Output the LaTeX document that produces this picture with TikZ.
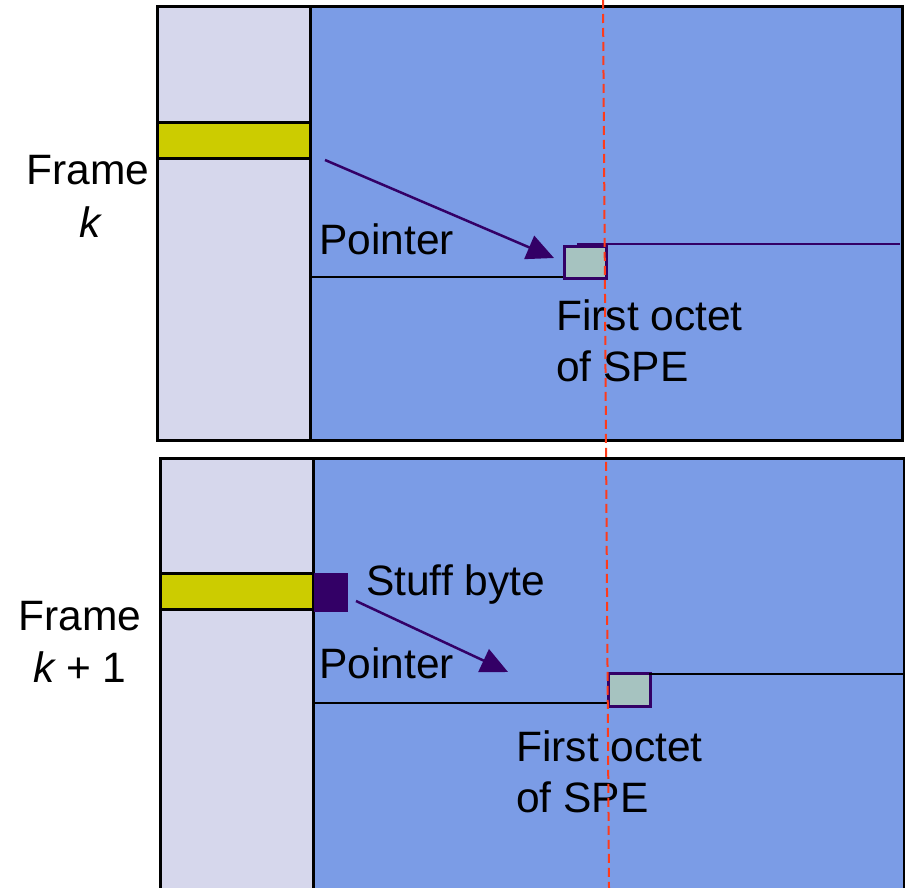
\documentclass[tikz,border=0pt]{standalone}
\usepackage{fontspec}
\setmainfont{Liberation Sans}
\usetikzlibrary{arrows.meta}
\definecolor{lav}{HTML}{D6D7EC}
\definecolor{blu}{HTML}{7B9CE6}
\definecolor{yel}{HTML}{CCCC00}
\definecolor{teal2}{HTML}{A6C3C0}
\definecolor{purp}{HTML}{330066}
\definecolor{redd}{HTML}{FF3B1A}
\tikzset{
  box/.style={draw=black, line width=3pt, inner sep=0pt, outer sep=0pt},
  lbl/.style={inner sep=0pt, font=\fontsize{42.5}{52}\selectfont, text=black},
  octet/.style={fill=teal2, draw=purp, line width=2.5pt},
  ptr/.style={draw=purp, line width=2.5pt, -{Triangle[length=27pt,width=25pt]}},
  hline/.style={draw=black, line width=2.4pt},
}
\begin{document}
\begin{tikzpicture}[x=1pt,y=-1pt]
\useasboundingbox (0,0) rectangle (905,888);
% Frame k
\path[box, fill=lav] (157,7) rectangle (310,440);
\path[box, fill=blu] (310,7) rectangle (902,440);
\path[box, fill=yel] (157,123) rectangle (310,159);
\coordinate (l1a) at (310,277);
\coordinate (l1b) at (563,277);
\draw[hline] (l1a) -- (l1b);
\node[octet, minimum width=42pt, minimum height=32pt, inner sep=0pt, anchor=north west] (oct1) at (563,245) {};
\coordinate (r1) at (900,244);
\draw[draw=purp, line width=2.2pt] (577,244) -- (r1);
\coordinate (p1s) at (325,160);
\coordinate (p1e) at (554,258);
\draw[ptr] (p1s) -- (p1e);
\node[lbl, anchor=base west] (pt1) at (319,254) {Pointer};
\node[lbl, anchor=base west] (fo1) at (556,330) {First octet};
\node[lbl, anchor=base west] (sp1) at (556,381) {of SPE};
\node[lbl, anchor=base] (fr1) at (88,184) {Frame};
\node[lbl, anchor=base] (k1) at (90,237) {\itshape k};
% Frame k+1
\path[box, fill=lav] (160,458) rectangle (313,895);
\path[box, fill=blu] (313,458) rectangle (904,895);
\path[box, fill=yel] (160,573) rectangle (313,609);
\node[fill=purp, minimum width=34pt, minimum height=39pt, inner sep=0pt, anchor=north west] (stuff) at (314,573) {};
\coordinate (l2a) at (313,703);
\coordinate (l2b) at (607,703);
\draw[hline] (l2a) -- (l2b);
\node[octet, minimum width=42pt, minimum height=33pt, inner sep=0pt, anchor=north west] (oct2) at (607,672) {};
\coordinate (r2) at (905,674);
\draw[hline] (649,674) -- (r2);
\coordinate (p2s) at (356,601);
\coordinate (p2e) at (508,672);
\draw[ptr] (p2s) -- (p2e);
\node[lbl, anchor=base west] (sb) at (366,595) {Stuff byte};
\node[lbl, anchor=base west] (pt2) at (319,678) {Pointer};
\node[lbl, anchor=base west] (fo2) at (516,761) {First octet};
\node[lbl, anchor=base west] (sp2) at (516,812) {of SPE};
\node[lbl, anchor=base] (fr2) at (80,630) {Frame};
\node[lbl, anchor=base] (k2) at (80,682) {\itshape k\upshape\ + 1};
% red dashed line
\coordinate (rt) at (603,0);
\coordinate (rb) at (609,888);
\draw[redd, line width=2pt, dash pattern=on 9pt off 5pt] (rt) -- (rb);
\end{tikzpicture}
\end{document}
